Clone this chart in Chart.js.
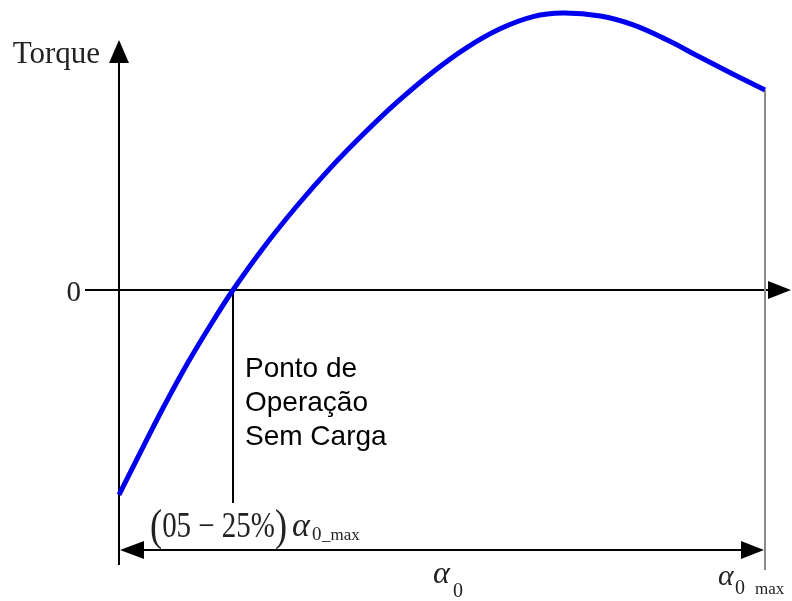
<!DOCTYPE html>
<html>
<head>
<meta charset="utf-8">
<script src="https://cdn.jsdelivr.net/npm/chart.js@4.4.1/dist/chart.umd.min.js"></script>
<style>
  html, body { margin: 0; padding: 0; background: #fff; }
  #wrap { position: relative; width: 792px; height: 601px; }
</style>
</head>
<body>
<div id="wrap"><canvas id="torqueChart"></canvas></div>
<script>
// Curve: load angle in % of alpha0_max, torque in p.u. of the peak
const alphaPct = [0, 3.7, 6.8, 10.5, 14.1, 17.65, 22.3, 27.6, 32.7, 37.8, 43.0, 48.6, 53.9, 59.0, 64.1, 68.7, 74.5, 79.6, 84.8, 89.9, 95.0, 100];
const torquePu = [-0.740, -0.568, -0.427, -0.269, -0.129, 0, 0.151, 0.305, 0.440, 0.562, 0.677, 0.787, 0.876, 0.943, 0.987, 1.0, 0.989, 0.957, 0.903, 0.841, 0.780, 0.722];

// Marked points on the angle axis
const noLoadPct = 17.65;
const alphaMaxPct = 100;

// Text of the sketch
const yAxisTitle = 'Torque';
const zeroTick = '0';
const noLoadLines = ['Ponto de', 'Operação', 'Sem Carga'];
const rangeText = ['(', '05 − 25%', ')'];

// Draw axes, arrows and guide lines behind the curve
function arrowHead(ctx, tx, ty, dx, dy, len, half) {
    const bx = tx - dx * len, by = ty - dy * len;
    ctx.beginPath();
    ctx.moveTo(tx, ty);
    ctx.lineTo(bx - dy * half, by + dx * half);
    ctx.lineTo(bx + dy * half, by - dx * half);
    ctx.closePath();
    ctx.fill();
}

function seg(ctx, x1, y1, x2, y2) {
    ctx.beginPath();
    ctx.moveTo(x1, y1);
    ctx.lineTo(x2, y2);
    ctx.stroke();
}

const sketchPlugin = {
    id: 'sketch',
    beforeDatasetsDraw(chart) {
        const { ctx, scales: { x, y } } = chart;
        const x0 = x.getPixelForValue(0);
        const y0 = y.getPixelForValue(0);
        const xOp = x.getPixelForValue(noLoadPct);
        const xMax = x.getPixelForValue(alphaMaxPct);
        const yEnd = y.getPixelForValue(torquePu[torquePu.length - 1]);

        ctx.save();
        ctx.fillStyle = '#000';
        ctx.strokeStyle = '#000';
        ctx.lineWidth = 2;

        // vertical torque axis
        seg(ctx, x0, 565, x0, 58);
        arrowHead(ctx, x0, 40, 0, -1, 23, 10);

        // horizontal axis at zero torque
        seg(ctx, 85, y0, 772, y0);
        arrowHead(ctx, 791, y0, 1, 0, 23, 9);

        // no-load operating point drop line
        seg(ctx, xOp, y0, xOp, 503);

        // alpha0_max limit (grey)
        ctx.strokeStyle = '#8a8a8a';
        seg(ctx, xMax, yEnd, xMax, 570);

        // dimension arrow 0 .. alpha0_max
        ctx.strokeStyle = '#000';
        seg(ctx, x0 + 20, 550, xMax - 20, 550);
        arrowHead(ctx, x0 + 1, 550, -1, 0, 24, 9);
        arrowHead(ctx, xMax - 1, 550, 1, 0, 23, 9);
        ctx.restore();
    },
    afterDraw(chart) {
        const { ctx, scales: { x, y } } = chart;
        const y0 = y.getPixelForValue(0);
        const xOp = x.getPixelForValue(noLoadPct);
        const xMax = x.getPixelForValue(alphaMaxPct);
        const xMid = x.getPixelForValue(alphaMaxPct / 2);

        ctx.save();
        ctx.fillStyle = '#222';
        ctx.textBaseline = 'alphabetic';

        ctx.font = '31px "Liberation Serif"';
        ctx.textAlign = 'right';
        ctx.fillText(yAxisTitle, 100, 63);
        ctx.font = '29px "Liberation Serif"';
        ctx.fillText(zeroTick, 81, y0 + 11);

        ctx.fillStyle = '#000';
        ctx.textAlign = 'left';
        ctx.font = '28px "Liberation Sans"';
        noLoadLines.forEach((t, i) => ctx.fillText(t, xOp + 12, 377 + i * 34));

        // (05 - 25%) alpha0_max, condensed like the original equation
        ctx.fillStyle = '#222';
        const fonts = ['44px "Liberation Serif"', '35px "Liberation Serif"', '44px "Liberation Serif"'];
        let total = 0;
        rangeText.forEach((t, i) => { ctx.font = fonts[i]; total += ctx.measureText(t).width; });
        ctx.save();
        ctx.translate(xOp - 83, 537);
        ctx.scale(137 / total, 1);
        let cx = 0;
        rangeText.forEach((t, i) => {
            ctx.font = fonts[i];
            ctx.fillText(t, cx, i === 1 ? 0 : 3);
            cx += ctx.measureText(t).width;
        });
        ctx.restore();
        ctx.font = 'italic 34px "Liberation Serif"';
        ctx.fillText('α', xOp + 59, 536);
        ctx.font = '19px "Liberation Serif"';
        ctx.fillText('0', xOp + 79, 540);
        ctx.font = '17px "Liberation Serif"';
        ctx.fillText('_max', xOp + 89, 540);

        // alpha0 under the dimension arrow
        ctx.font = 'italic 32px "Liberation Serif"';
        ctx.fillText('α', xMid - 9, 583);
        ctx.font = '20px "Liberation Serif"';
        ctx.fillText('0', xMid + 11, 597);

        // alpha0 max at the limit line
        ctx.font = 'italic 30px "Liberation Serif"';
        ctx.fillText('α', xMax - 47, 585);
        ctx.font = '20px "Liberation Serif"';
        ctx.fillText('0', xMax - 30, 594);
        ctx.font = '17px "Liberation Serif"';
        ctx.fillText('max', xMax - 10, 594);
        ctx.restore();
    }
};

new Chart(document.getElementById('torqueChart'), {
    type: 'line',
    data: {
        datasets: [{
            data: alphaPct.map((a, i) => ({ x: a, y: torquePu[i] })),
            borderColor: '#0000f0',
            borderWidth: 5,
            pointRadius: 0,
            tension: 0.4,
            fill: false,
            clip: false
        }]
    },
    options: {
        responsive: true,
        maintainAspectRatio: false,
        animation: false,
        layout: { padding: 0 },
        plugins: { legend: { display: false }, tooltip: { enabled: false } },
        scales: {
            // ranges chosen so 0..100 % spans the sketch's axis, zero torque at its baseline
            x: { type: 'linear', display: false, min: -18.42, max: 104.18 },
            y: { type: 'linear', display: false, min: -1.1227, max: 1.0469 }
        }
    },
    plugins: [sketchPlugin]
});
</script>
</body>
</html>
